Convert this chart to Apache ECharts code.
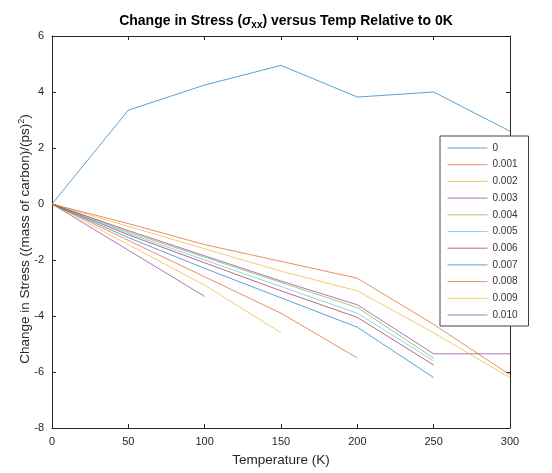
<!DOCTYPE html>
<html>
<head>
<meta charset="utf-8">
<script src="https://cdn.jsdelivr.net/npm/echarts@6/dist/echarts.min.js"></script>
<style>
  html, body { margin: 0; padding: 0; background: #fff; }
  #chart { width: 552px; height: 473px; }
</style>
</head>
<body>
<div id="chart"></div>
<script>
// Temperatures sampled (K)
const temps = [0, 50, 100, 150, 200, 250, 300];

// Legend names (strain levels)
const seriesNames = ['0', '0.001', '0.002', '0.003', '0.004', '0.005', '0.006', '0.007', '0.008', '0.009', '0.010'];

// Change in stress per strain level, one value per temperature (null = no run)
const s0     = [0, 3.35, 4.25, 4.95, 3.82, 4.00, 2.60];
const s0001  = [0, -0.70, -1.45, -2.05, -2.65, -4.30, -6.10];
const s0002  = [0, -0.80, -1.60, -2.40, -3.10, -4.60, -6.20];
const s0003  = [0, -0.95, -1.85, -2.75, -3.60, -5.35, -5.35];
const s0004  = [0, -1.00, -1.90, -2.80, -3.70, -5.50, null];
const s0005  = [0, -1.05, -2.00, -2.95, -3.90, -5.60, null];
const s0006  = [0, -1.10, -2.10, -3.10, -4.05, -5.75, null];
const s0007  = [0, -1.20, -2.30, -3.35, -4.40, -6.20, null];
const s0008  = [0, -1.30, -2.60, -3.90, -5.50, null, null];
const s0009  = [0, -1.45, -2.90, -4.60, null, null, null];
const s0010  = [0, -1.65, -3.30, null, null, null, null];

const seriesValues = [s0, s0001, s0002, s0003, s0004, s0005, s0006, s0007, s0008, s0009, s0010];

// Default line colour order
const palette = ['#0072BD', '#D95319', '#EDB120', '#7E2F8E', '#77AC30', '#4DBEEE', '#A2142F',
                 '#0072BD', '#D95319', '#EDB120', '#7E2F8E'];

const xTicks = { min: 0, max: 300, interval: 50 };
const yTicks = { min: -8, max: 6, interval: 2 };

const font = 'Liberation Sans, Arial, sans-serif';
const axisColor = '#262626';

function pairs(vals) {
  const out = [];
  vals.forEach((v, i) => { if (v !== null) out.push([temps[i], v]); });
  return out;
}

const series = seriesNames.map((name, i) => ({
  name: name,
  type: 'line',
  data: pairs(seriesValues[i]),
  symbol: 'none',
  color: palette[i],
  lineStyle: { width: 1, color: palette[i], opacity: 0.65 },
  animation: false,
  z: 2 + (seriesNames.length - i)
}));

const axisCommon = {
  axisLine: { show: true, onZero: false, lineStyle: { color: axisColor, width: 1 } },
  axisTick: { show: true, inside: true, length: 4, lineStyle: { color: axisColor } },
  splitLine: { show: false }
};

const chart = echarts.init(document.getElementById('chart'), null, { renderer: 'canvas' });
chart.setOption({
  backgroundColor: '#fff',
  animation: false,
  title: {
    text: 'Change in Stress ({i|σ}{sub|xx}) versus Temp Relative to 0K',
    left: 281, top: 7, textAlign: 'center',
    textStyle: {
      fontFamily: font, fontSize: 14, fontWeight: 'bold', color: '#000',
      rich: {
        i: { fontFamily: font, fontSize: 14, fontStyle: 'italic', color: '#000' },
        sub: { fontFamily: font, fontSize: 10, fontWeight: 'bold', color: '#000', verticalAlign: 'bottom', padding: [8, 0, 0, 0] }
      }
    }
  },
  grid: { left: 52, right: 42, top: 36, bottom: 45, containLabel: false },
  legend: {
    orient: 'vertical',
    left: 440, top: 136,
    data: seriesNames,
    itemWidth: 40, itemHeight: 10, itemGap: 6.7,
    padding: [7, 11, 6, 7],
    backgroundColor: '#fff',
    borderColor: '#444', borderWidth: 1, borderRadius: 0,
    itemStyle: { opacity: 0 },
    lineStyle: { width: 1 },
    textStyle: { fontFamily: font, fontSize: 10, color: '#333' }
  },
  xAxis: [
    Object.assign({
      type: 'value', position: 'bottom',
      min: xTicks.min, max: xTicks.max, interval: xTicks.interval,
      name: 'Temperature (K)', nameLocation: 'middle', nameGap: 25,
      nameTextStyle: { fontFamily: font, fontSize: 13.5, color: axisColor },
      axisLabel: { fontFamily: font, fontSize: 11, color: axisColor, margin: 8 }
    }, axisCommon),
    Object.assign({
      type: 'value', position: 'top',
      min: xTicks.min, max: xTicks.max, interval: xTicks.interval,
      axisLabel: { show: false }
    }, axisCommon)
  ],
  yAxis: [
    Object.assign({
      type: 'value', position: 'left',
      min: yTicks.min, max: yTicks.max, interval: yTicks.interval,
      name: 'Change in Stress ((mass of carbon)/(ps){sup|2})', nameLocation: 'middle', nameGap: 18,
      nameMoveOverlap: false,
      nameTextStyle: {
        fontFamily: font, fontSize: 13.5, color: axisColor,
        padding: [0, 14, 0, 0],
        rich: { sup: { fontFamily: font, fontSize: 9, color: axisColor, verticalAlign: 'top', padding: [0, 0, 8, 0] } }
      },
      axisLabel: { fontFamily: font, fontSize: 11, color: axisColor, margin: 8 }
    }, axisCommon),
    Object.assign({
      type: 'value', position: 'right',
      min: yTicks.min, max: yTicks.max, interval: yTicks.interval,
      axisLabel: { show: false }
    }, axisCommon)
  ],
  series: series
});
</script>
</body>
</html>
